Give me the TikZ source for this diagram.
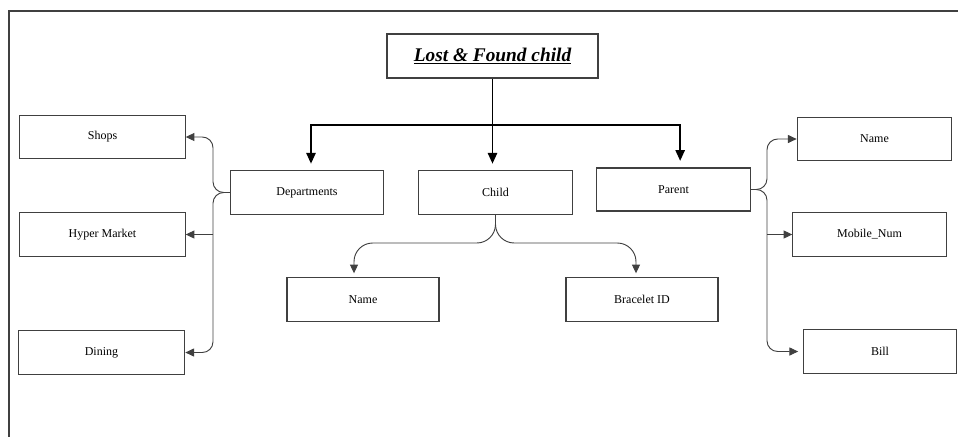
\documentclass[tikz,border=0pt]{standalone}
\usepackage{fontspec}
\setmainfont{Liberation Serif}
\usetikzlibrary{arrows.meta}
\tikzset{>={Triangle[length=6.5pt,width=6pt]}}
\colorlet{boxgray}{black!75}

\begin{document}
\begin{tikzpicture}[x=0.75pt, y=-0.75pt, font=\fontsize{9}{11}\selectfont,
  box/.style={draw=boxgray, line width=0.8pt, minimum width=115pt, minimum height=32.5pt, inner sep=2pt},
  wide/.style={box, minimum width=124pt},
  link/.style={draw=boxgray, line width=0.7pt, rounded corners=8pt, ->},
  trunk/.style={draw=black, line width=1.1pt, shorten >=5pt, -{Triangle[length=8pt,width=7pt]}}]
\useasboundingbox (0,0) rectangle (958,437);
% page frame
\draw[boxgray, line width=1.6pt] (958,11) -- (9,11) -- (9,437);
% nodes
\node[box, line width=1.1pt, minimum width=158pt, minimum height=33pt, font=\fontsize{14.5}{16}\selectfont\bfseries\itshape] (title) at (492.5,56) {\underline{Lost \& Found child}};
\node[box] (dept) at (307,192.5) {Departments};
\node[box] (child) at (495.5,192.5) {Child};
\node[box, minimum height=32.25pt] (parent) at (673.5,189.5) {Parent};
\node[wide] (shops) at (102.5,137) {Shops};
\node[wide] (hyper) at (102.5,234.5) {Hyper Market};
\node[wide, minimum width=125pt] (dine) at (101.5,352.5) {Dining};
\node[box, minimum width=114pt] (cname) at (363,299.5) {Name};
\node[box, minimum width=114pt] (bracelet) at (642,299.5) {Bracelet ID};
\node[box, minimum width=116pt] (pname) at (874.5,139) {Name};
\node[box] (mobile) at (869.5,234.5) {Mobile\_Num};
\node[box] (bill) at (880,351.5) {Bill};
% helper coordinates
\coordinate (tbus) at (0,125);
\coordinate (lbus) at (213,0);
\coordinate (rbus) at (767,0);
\coordinate (cbus) at (0,243);
\coordinate (cn) at ([xshift=-6.75pt]cname.north);
\coordinate (bi) at ([xshift=-4.5pt]bracelet.north);
% main tree
\draw[trunk] (title.south) -- (title.south |- child.north);
\draw[trunk] (title.south |- tbus) -| ([xshift=3pt]dept.north);
\draw[trunk] (title.south |- tbus) -| ([xshift=5pt]parent.north);
% departments
\draw[link] (dept.west) -- (dept.west -| lbus) -- (shops.east -| lbus) -- (shops.east);
\draw[link] (dept.west) -- (dept.west -| lbus) -- (dine.east -| lbus) -- (dine.east);
\draw[link] (hyper.east -| lbus) -- (hyper.east);
% child
\draw[link, rounded corners=14pt, shorten >=3pt] (child.south) -- (child.south |- cbus) -- (cn |- cbus) -- (cn);
\draw[link, rounded corners=14pt, shorten >=3pt] (child.south) -- (child.south |- cbus) -- (bi |- cbus) -- (bi);
% parent
\draw[link] (parent.east) -- (parent.east -| rbus) -- (pname.west -| rbus) -- (pname.west);
\draw[link, shorten >=3.5pt] (parent.east) -- (parent.east -| rbus) -- (bill.west -| rbus) -- (bill.west);
\draw[link] (mobile.west -| rbus) -- (mobile.west);
\end{tikzpicture}
\end{document}
